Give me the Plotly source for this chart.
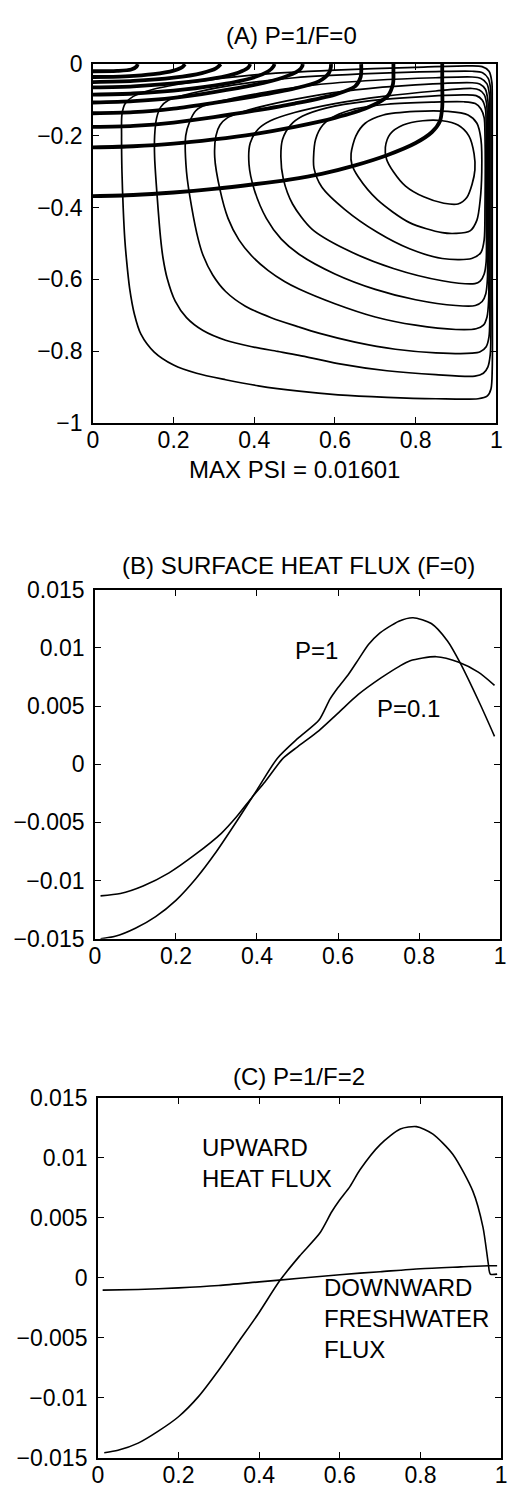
import plotly.graph_objects as go

FONT = "Liberation Sans, Arial, Helvetica, sans-serif"

# ---------------- Panel A: streamfunction (thin) and isotherms (thick) ----------------
psi_1_x = [0.071, 0.072, 0.08, 0.1, 0.15, 0.25, 0.4, 0.6, 0.8, 0.93, 0.965, 0.982, 0.989, 0.99, 0.99, 0.99, 0.99, 0.987, 0.978, 0.955, 0.85, 0.729, 0.608, 0.511, 0.41, 0.329, 0.257, 0.2, 0.152, 0.119, 0.103, 0.091, 0.083, 0.079, 0.075, 0.072, 0.071]
psi_1_y = [-0.2, -0.14, -0.11, -0.09, -0.07, -0.05, -0.03, -0.017, -0.009, -0.005, -0.007, -0.02, -0.05, -0.1, -0.3, -0.6, -0.85, -0.905, -0.925, -0.933, -0.933, -0.929, -0.922, -0.912, -0.897, -0.88, -0.862, -0.839, -0.803, -0.753, -0.698, -0.625, -0.542, -0.488, -0.4, -0.3, -0.2]

psi_2_x = [0.153, 0.158, 0.168, 0.188, 0.25, 0.35, 0.5, 0.7, 0.85, 0.94, 0.966, 0.98, 0.986, 0.987, 0.987, 0.987, 0.985, 0.979, 0.968, 0.947, 0.85, 0.729, 0.608, 0.511, 0.458, 0.394, 0.329, 0.273, 0.232, 0.204, 0.184, 0.174, 0.168, 0.16, 0.153, 0.153]
psi_2_y = [-0.2, -0.15, -0.12, -0.1, -0.08, -0.058, -0.038, -0.026, -0.021, -0.02, -0.024, -0.04, -0.07, -0.12, -0.4, -0.7, -0.81, -0.845, -0.862, -0.87, -0.866, -0.855, -0.835, -0.812, -0.801, -0.788, -0.77, -0.743, -0.707, -0.661, -0.597, -0.542, -0.488, -0.38, -0.26, -0.2]

psi_3_x = [0.23, 0.24, 0.255, 0.273, 0.33, 0.43, 0.55, 0.7, 0.85, 0.94, 0.962, 0.977, 0.983, 0.984, 0.984, 0.984, 0.982, 0.975, 0.96, 0.94, 0.85, 0.75, 0.65, 0.56, 0.511, 0.442, 0.378, 0.329, 0.297, 0.273, 0.261, 0.245, 0.232, 0.23]
psi_3_y = [-0.2, -0.16, -0.13, -0.117, -0.1, -0.078, -0.058, -0.045, -0.038, -0.036, -0.04, -0.055, -0.085, -0.13, -0.4, -0.7, -0.76, -0.788, -0.802, -0.806, -0.805, -0.795, -0.775, -0.75, -0.733, -0.707, -0.675, -0.634, -0.588, -0.533, -0.488, -0.4, -0.3, -0.2]

psi_4_x = [0.305, 0.315, 0.333, 0.366, 0.43, 0.53, 0.65, 0.8, 0.94, 0.96, 0.973, 0.979, 0.981, 0.981, 0.981, 0.977, 0.968, 0.95, 0.9, 0.8, 0.7, 0.6, 0.511, 0.475, 0.434, 0.394, 0.362, 0.335, 0.315, 0.302, 0.305]
psi_4_y = [-0.2, -0.17, -0.15, -0.135, -0.115, -0.092, -0.072, -0.058, -0.052, -0.056, -0.07, -0.1, -0.15, -0.4, -0.66, -0.705, -0.728, -0.738, -0.74, -0.728, -0.705, -0.668, -0.627, -0.606, -0.575, -0.535, -0.49, -0.43, -0.35, -0.26, -0.2]

psi_5_x = [0.39, 0.41, 0.44, 0.5, 0.6, 0.72, 0.85, 0.94, 0.958, 0.97, 0.976, 0.978, 0.978, 0.978, 0.974, 0.965, 0.948, 0.9, 0.8, 0.7, 0.6, 0.511, 0.467, 0.43, 0.4, 0.387, 0.39]
psi_5_y = [-0.22, -0.181, -0.158, -0.135, -0.11, -0.09, -0.075, -0.068, -0.072, -0.085, -0.11, -0.16, -0.4, -0.6, -0.64, -0.662, -0.673, -0.673, -0.657, -0.628, -0.585, -0.53, -0.488, -0.43, -0.35, -0.28, -0.22]

psi_6_x = [0.47, 0.49, 0.52, 0.58, 0.68, 0.8, 0.92, 0.95, 0.965, 0.973, 0.975, 0.975, 0.975, 0.97, 0.96, 0.947, 0.866, 0.745, 0.624, 0.543, 0.495, 0.472, 0.466, 0.47]
psi_6_y = [-0.21, -0.17, -0.145, -0.122, -0.103, -0.092, -0.086, -0.088, -0.1, -0.125, -0.17, -0.4, -0.55, -0.585, -0.605, -0.612, -0.604, -0.57, -0.515, -0.46, -0.39, -0.32, -0.26, -0.21]

psi_7_x = [0.552, 0.57, 0.6, 0.65, 0.73, 0.84, 0.92, 0.948, 0.962, 0.97, 0.972, 0.972, 0.97, 0.962, 0.939, 0.866, 0.785, 0.705, 0.624, 0.567, 0.548, 0.547, 0.552]
psi_7_y = [-0.21, -0.17, -0.145, -0.125, -0.112, -0.106, -0.105, -0.11, -0.125, -0.15, -0.2, -0.4, -0.49, -0.525, -0.542, -0.542, -0.515, -0.469, -0.405, -0.342, -0.29, -0.26, -0.21]

psi_8_x = [0.64, 0.652, 0.675, 0.72, 0.8, 0.88, 0.93, 0.952, 0.962, 0.964, 0.96, 0.952, 0.935, 0.9, 0.866, 0.785, 0.705, 0.658, 0.642, 0.64]
psi_8_y = [-0.25, -0.2, -0.165, -0.142, -0.132, -0.132, -0.142, -0.165, -0.21, -0.3, -0.38, -0.435, -0.465, -0.472, -0.47, -0.442, -0.378, -0.315, -0.28, -0.25]

psi_9_x = [0.725, 0.737, 0.769, 0.818, 0.866, 0.905, 0.932, 0.945, 0.947, 0.94, 0.927, 0.905, 0.87, 0.82, 0.775, 0.745, 0.728, 0.725]
psi_9_y = [-0.232, -0.195, -0.17, -0.158, -0.158, -0.17, -0.2, -0.25, -0.295, -0.335, -0.372, -0.39, -0.388, -0.37, -0.34, -0.3, -0.265, -0.232]

temp_1_x = [0.0, 0.06, 0.095, 0.108, 0.111]
temp_1_y = [-0.02, -0.019, -0.015, -0.007, 0.0]
temp_2_x = [0.0, 0.08, 0.15, 0.2, 0.222, 0.228]
temp_2_y = [-0.036, -0.034, -0.028, -0.018, -0.008, 0.0]
temp_3_x = [0.0, 0.1, 0.2, 0.27, 0.305, 0.317]
temp_3_y = [-0.05, -0.047, -0.038, -0.025, -0.012, 0.0]
temp_4_x = [0.0, 0.1, 0.2, 0.3, 0.36, 0.385, 0.39]
temp_4_y = [-0.065, -0.062, -0.054, -0.04, -0.024, -0.01, 0.0]
temp_5_x = [0.0, 0.1, 0.2, 0.3, 0.39, 0.435, 0.448, 0.45]
temp_5_y = [-0.085, -0.082, -0.074, -0.06, -0.04, -0.02, -0.006, 0.0]
temp_6_x = [0.0, 0.1, 0.2, 0.3, 0.4, 0.47, 0.51, 0.519, 0.52]
temp_6_y = [-0.107, -0.103, -0.094, -0.078, -0.058, -0.038, -0.018, -0.006, 0.0]
temp_7_x = [0.0, 0.1, 0.2, 0.3, 0.4, 0.5, 0.56, 0.585, 0.59, 0.59]
temp_7_y = [-0.137, -0.134, -0.124, -0.108, -0.09, -0.068, -0.048, -0.025, -0.008, 0.0]
temp_8_x = [0.0, 0.1, 0.2, 0.3, 0.4, 0.5, 0.6, 0.65, 0.664, 0.665]
temp_8_y = [-0.175, -0.172, -0.163, -0.148, -0.13, -0.11, -0.085, -0.062, -0.035, 0.0]
temp_9_x = [0.0, 0.1, 0.2, 0.3, 0.4, 0.5, 0.6, 0.68, 0.73, 0.744, 0.745, 0.745]
temp_9_y = [-0.232, -0.229, -0.222, -0.21, -0.195, -0.175, -0.15, -0.122, -0.09, -0.055, -0.02, 0.0]
temp_10_x = [0.0, 0.1, 0.2, 0.3, 0.4, 0.487, 0.567, 0.648, 0.729, 0.8, 0.84, 0.86, 0.866, 0.866, 0.866]
temp_10_y = [-0.368, -0.365, -0.358, -0.348, -0.335, -0.322, -0.306, -0.283, -0.254, -0.22, -0.19, -0.16, -0.12, -0.05, 0.0]

psi_lines = [(psi_1_x, psi_1_y), (psi_2_x, psi_2_y), (psi_3_x, psi_3_y), (psi_4_x, psi_4_y),
             (psi_5_x, psi_5_y), (psi_6_x, psi_6_y), (psi_7_x, psi_7_y), (psi_8_x, psi_8_y),
             (psi_9_x, psi_9_y)]
temp_lines = [(temp_1_x, temp_1_y), (temp_2_x, temp_2_y), (temp_3_x, temp_3_y), (temp_4_x, temp_4_y),
              (temp_5_x, temp_5_y), (temp_6_x, temp_6_y), (temp_7_x, temp_7_y), (temp_8_x, temp_8_y),
              (temp_9_x, temp_9_y), (temp_10_x, temp_10_y)]

# ---------------- Panel B: surface heat flux, F=0 ----------------
heat_p1_x = [0.014, 0.05, 0.1, 0.15, 0.2, 0.25, 0.3, 0.35, 0.4, 0.45, 0.5, 0.553, 0.58, 0.6, 0.625, 0.65, 0.675, 0.7, 0.75, 0.785, 0.83, 0.87, 0.9, 0.95, 0.986]
heat_p1_y = [-0.015, -0.0148, -0.0141, -0.0131, -0.0117, -0.0098, -0.0075, -0.0049, -0.0022, 0.0005, 0.0022, 0.0038, 0.0056, 0.0066, 0.0077, 0.009, 0.0103, 0.0112, 0.0123, 0.0126, 0.0121, 0.0106, 0.0088, 0.0052, 0.0024]

heat_p01_x = [0.014, 0.063, 0.119, 0.183, 0.247, 0.312, 0.35, 0.388, 0.42, 0.464, 0.5, 0.553, 0.6, 0.65, 0.705, 0.75, 0.778, 0.842, 0.898, 0.946, 0.986]
heat_p01_y = [-0.01132, -0.01112, -0.01047, -0.00934, -0.00778, -0.00594, -0.0045, -0.00283, -0.0015, 0.0005, 0.0015, 0.0029, 0.0044, 0.006, 0.0074, 0.0084, 0.0089, 0.00925, 0.00877, 0.00792, 0.00679]

# ---------------- Panel C: P=1, F=2 ----------------
up_heat_x = [0.016, 0.05, 0.1, 0.15, 0.2, 0.25, 0.3, 0.35, 0.4, 0.45, 0.5, 0.55, 0.58, 0.6, 0.625, 0.65, 0.7, 0.75, 0.79, 0.83, 0.88, 0.93, 0.955, 0.968, 0.973, 0.99]
up_heat_y = [-0.0146, -0.0144, -0.0138, -0.0128, -0.0116, -0.0099, -0.0077, -0.0053, -0.0029, -0.0003, 0.0018, 0.0037, 0.0055, 0.0065, 0.0076, 0.009, 0.0111, 0.0124, 0.0126, 0.012, 0.0103, 0.0072, 0.0042, 0.0012, 0.0003, 0.0003]

fresh_x = [0.012, 0.1, 0.2, 0.3, 0.4, 0.5, 0.6, 0.7, 0.8, 0.9, 0.97, 0.99]
fresh_y = [-0.00104, -0.00098, -0.00085, -0.00065, -0.00035, -0.00005, 0.00025, 0.0005, 0.00075, 0.0009, 0.001, 0.001]

# ---------------- axis ticks ----------------
x_ticks = [0, 0.2, 0.4, 0.6, 0.8, 1]
x_tick_text = ["0", "0.2", "0.4", "0.6", "0.8", "1"]
depth_ticks = [0, -0.2, -0.4, -0.6, -0.8, -1]
depth_tick_text = ["0", "\u22120.2", "\u22120.4", "\u22120.6", "\u22120.8", "\u22121"]
flux_ticks = [0.015, 0.01, 0.005, 0, -0.005, -0.01, -0.015]
flux_tick_text = ["0.015", "0.01", "0.005", "0", "\u22120.005", "\u22120.01", "\u22120.015"]

W, H = 514, 1500
fig = go.Figure()

THIN = dict(color="black", width=1.7, shape="spline", smoothing=0.8)
THICK = dict(color="black", width=3.8, shape="spline", smoothing=0.8)
CURVE = dict(color="black", width=1.6, shape="spline", smoothing=0.7)

for xs, ys in psi_lines:
    fig.add_trace(go.Scatter(x=xs, y=ys, mode="lines", line=THIN, xaxis="x", yaxis="y", hoverinfo="skip"))
for xs, ys in temp_lines:
    fig.add_trace(go.Scatter(x=xs, y=ys, mode="lines", line=THICK, xaxis="x", yaxis="y", hoverinfo="skip"))

fig.add_trace(go.Scatter(x=heat_p1_x, y=heat_p1_y, mode="lines", line=CURVE, xaxis="x2", yaxis="y2"))
fig.add_trace(go.Scatter(x=heat_p01_x, y=heat_p01_y, mode="lines", line=CURVE, xaxis="x2", yaxis="y2"))
fig.add_trace(go.Scatter(x=up_heat_x, y=up_heat_y, mode="lines", line=CURVE, xaxis="x3", yaxis="y3"))
fig.add_trace(go.Scatter(x=fresh_x, y=fresh_y, mode="lines", line=CURVE, xaxis="x3", yaxis="y3"))


def px_dom(a, b, total):
    return [a / total, b / total]


def py_dom(top, bottom):
    return [1 - bottom / H, 1 - top / H]


tick_font = dict(family=FONT, size=23, color="black")
axis_common = dict(showline=True, linecolor="black", linewidth=1.5, mirror="allticks",
                   ticks="inside", ticklen=6, tickwidth=1.2, tickcolor="black",
                   showgrid=False, zeroline=False, tickfont=tick_font, fixedrange=True)

panels = [
    # (x-suffix, left, right, top, bottom, x range, y range, y ticks, y tick text)
    ("", 89, 502, 52, 417, [0, 1], [-1, 0], depth_ticks, depth_tick_text),
    ("2", 91, 506, 587, 942, [0, 1], [-0.015, 0.015], flux_ticks, flux_tick_text),
    ("3", 94, 507, 1104, 1470, [0, 1], [-0.015, 0.015], flux_ticks, flux_tick_text),
]
layout_axes = {}
for suf, l, r, t, b, xr, yr, yt, ytt in panels:
    layout_axes["xaxis" + suf] = dict(axis_common, domain=px_dom(l, r, W), range=xr,
                                      tickvals=x_ticks, ticktext=x_tick_text,
                                      anchor="y" + suf, ticklabelstandoff=-4)
    layout_axes["yaxis" + suf] = dict(axis_common, domain=py_dom(t, b), range=yr,
                                      tickvals=yt, ticktext=ytt, anchor="x" + suf,
                                      ticklabelstandoff=4)

title_font = dict(family=FONT, size=24, color="black")
label_font = dict(family=FONT, size=24, color="black")
annotations = [
    dict(text="(A) P=1/F=0", x=292 / W, y=1 - 23 / H, xref="paper", yref="paper",
         showarrow=False, font=title_font, xanchor="center", yanchor="middle"),
    dict(text="MAX PSI = 0.01601", x=295 / W, y=1 - 465 / H, xref="paper", yref="paper",
         showarrow=False, font=title_font, xanchor="center", yanchor="middle"),
    dict(text="(B) SURFACE HEAT FLUX (F=0)", x=299 / W, y=1 - 562 / H, xref="paper", yref="paper",
         showarrow=False, font=title_font, xanchor="center", yanchor="middle"),
    dict(text="(C) P=1/F=2", x=300 / W, y=1 - 1082 / H, xref="paper", yref="paper",
         showarrow=False, font=title_font, xanchor="center", yanchor="middle"),
    dict(text="P=1", x=0.547, y=0.0098, xref="x2", yref="y2", showarrow=False,
         font=label_font, xanchor="center", yanchor="middle"),
    dict(text="P=0.1", x=0.773, y=0.0048, xref="x2", yref="y2", showarrow=False,
         font=label_font, xanchor="center", yanchor="middle"),
    dict(text="UPWARD<br>HEAT FLUX", x=0.253, y=0.0096, xref="x3", yref="y3", showarrow=False,
         font=label_font, xanchor="left", yanchor="middle", align="left"),
    dict(text="DOWNWARD<br>FRESHWATER<br>FLUX", x=0.557, y=-0.0034, xref="x3", yref="y3",
         showarrow=False, font=label_font, xanchor="left", yanchor="middle", align="left"),
]

fig.update_layout(
    width=W, height=H, margin=dict(l=0, r=0, t=0, b=0),
    paper_bgcolor="white", plot_bgcolor="white", showlegend=False,
    font=dict(family=FONT, color="black"),
    annotations=annotations,
    **layout_axes,
)

fig.write_html("out.html")
